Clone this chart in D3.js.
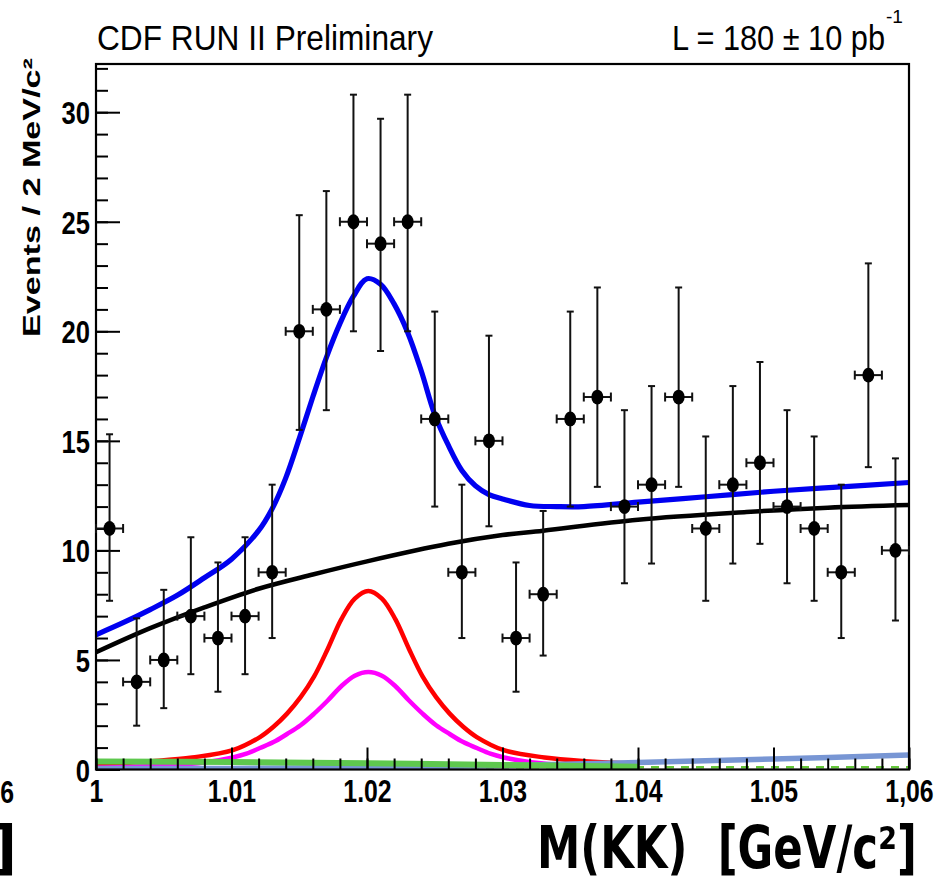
<!DOCTYPE html>
<head>
  <meta charset="utf-8">
  <script src="https://d3js.org/d3.v7.min.js"></script>
  <style>
    body { margin: 0; background: #fff; }
    svg { display: block; }
  </style>
</head>

<body>
  <svg width="946" height="880"></svg>

  <script>

  // data points (2 MeV bins)
  var binCenters = [1.001, 1.003, 1.005, 1.007, 1.009, 1.011, 1.013, 1.015, 1.017, 1.019,
                    1.021, 1.023, 1.025, 1.027, 1.029, 1.031, 1.033, 1.035, 1.037, 1.039,
                    1.041, 1.043, 1.045, 1.047, 1.049, 1.051, 1.053, 1.055, 1.057, 1.059];
  var counts = [11, 4, 5, 7, 6, 7, 9, 20, 21, 25,
                24, 25, 16, 9, 15, 6, 8, 16, 17, 12,
                13, 17, 11, 13, 14, 12, 11, 9, 18, 10];
  var errLow = [7.7, 2.0, 2.8, 4.35, 3.55, 4.35, 6.0, 15.5, 16.4, 20.0,
                19.1, 20.0, 12.0, 6.0, 11.1, 3.55, 5.2, 12.0, 12.9, 8.5,
                9.4, 12.9, 7.7, 9.4, 10.3, 8.5, 7.7, 6.0, 13.8, 6.8];
  var errHigh = [15.3, 6.9, 8.2, 10.6, 9.45, 10.6, 13.0, 25.3, 26.4, 30.8,
                 29.7, 30.8, 20.9, 13.0, 19.8, 9.45, 11.8, 20.9, 22.0, 16.4,
                 17.5, 22.0, 15.2, 17.5, 18.6, 16.4, 15.2, 13.0, 23.1, 14.2];
  var halfBin = 0.001;

  // fit curves
  var totalX = [1.000, 1.002, 1.004, 1.006, 1.008, 1.010, 1.012, 1.013, 1.014, 1.015, 1.016, 1.017,
                1.018, 1.019, 1.020, 1.021, 1.022, 1.023, 1.024, 1.025, 1.026, 1.027, 1.028,
                1.029, 1.030, 1.032, 1.034, 1.036, 1.040, 1.045, 1.050, 1.055, 1.060];
  var totalY = [6.15, 6.7, 7.3, 7.95, 8.75, 9.6, 10.9, 11.9, 13.3, 15.1, 17.0, 18.8,
                20.35, 21.6, 22.4, 22.15, 21.25, 19.95, 18.2, 16.2, 14.8, 13.65, 12.95,
                12.55, 12.35, 12.05, 12.0, 12.0, 12.2, 12.45, 12.7, 12.9, 13.1];

  var bkgX = [1.000, 1.004, 1.008, 1.012, 1.016, 1.020, 1.026, 1.030, 1.033, 1.040, 1.048, 1.054, 1.060];
  var bkgY = [5.35, 6.45, 7.4, 8.25, 8.9, 9.5, 10.3, 10.7, 10.9, 11.4, 11.75, 11.95, 12.07];

  var phiX = [1.0000, 1.0041, 1.0071, 1.0101, 1.0121, 1.0131, 1.0141, 1.0151, 1.0161, 1.0171, 1.0181,
              1.0191, 1.0201, 1.0211, 1.0221, 1.0231, 1.0241, 1.0251, 1.0261, 1.0271, 1.0281,
              1.0301, 1.0331, 1.0361, 1.0391];
  var phiY = [0.22, 0.38, 0.55, 0.88, 1.48, 1.95, 2.55, 3.3, 4.25, 5.5, 6.85,
              7.8, 8.15, 7.8, 6.85, 5.5, 4.25, 3.3, 2.55, 1.95, 1.48,
              0.88, 0.55, 0.38, 0.28];

  var phi2X = [1.0000, 1.0051, 1.0081, 1.0101, 1.0111, 1.0121, 1.0131, 1.0141, 1.0151, 1.0161, 1.0171,
               1.0181, 1.0191, 1.0201, 1.0211, 1.0221, 1.0231, 1.0241, 1.0251, 1.0261, 1.0271,
               1.0281, 1.0291, 1.0301, 1.0321, 1.0351, 1.0391];
  var phi2Y = [0.08, 0.18, 0.33, 0.55, 0.72, 0.98, 1.25, 1.62, 2.02, 2.55, 3.15,
               3.8, 4.28, 4.45, 4.28, 3.8, 3.15, 2.55, 2.02, 1.62, 1.25,
               0.98, 0.72, 0.55, 0.33, 0.18, 0.1];

  var greenX = [1.000, 1.010, 1.020, 1.030, 1.036, 1.040];
  var greenY = [0.37, 0.34, 0.28, 0.21, 0.16, 0.13];

  var slateX = [1.000, 1.010, 1.020, 1.030, 1.040, 1.050, 1.060];
  var slateY = [0.05, 0.05, 0.09, 0.18, 0.32, 0.48, 0.66];

  var dashX = [1.000, 1.060];
  var dashY = [0.1, 0.1];

  // axes
  var xMajor = [1.00, 1.01, 1.02, 1.03, 1.04, 1.05, 1.06];
  var xLabels = ["1", "1.01", "1.02", "1.03", "1.04", "1.05", "1,06"];
  var yMajor = [0, 5, 10, 15, 20, 25, 30];
  var yLabels = ["0", "5", "10", "15", "20", "25", "30"];

  var svg = d3.select("svg");
  var plotLeft = 96, plotRight = 909, plotTop = 64, plotBottom = 769.5;

  var x = d3.scaleLinear().domain([1, 1.06]).range([plotLeft, plotRight]);
  var y = d3.scaleLinear().domain([0, 32.2]).range([plotBottom, plotTop]);

  svg.append("rect").attr("width", 946).attr("height", 880).attr("fill", "#fff");

  svg.append("clipPath").attr("id", "plotclip")
    .append("rect")
    .attr("x", plotLeft).attr("y", plotTop)
    .attr("width", plotRight - plotLeft).attr("height", plotBottom - plotTop);

  var curves = svg.append("g").attr("clip-path", "url(#plotclip)");

  function drawCurve(xs, ys, color, width, dash) {
    var pts = xs.map(function(v, i) { return [v, ys[i]]; });
    var line = d3.line()
      .x(function(d) { return x(d[0]); })
      .y(function(d) { return y(d[1]); })
      .curve(d3.curveCatmullRom.alpha(0.5));
    var p = curves.append("path")
      .attr("d", line(pts))
      .attr("fill", "none")
      .attr("stroke", color)
      .attr("stroke-width", width)
      .attr("stroke-linecap", "butt");
    if (dash) p.attr("stroke-dasharray", dash);
    return p;
  }

  drawCurve(dashX, dashY, "#66c83c", 2.5, "8,7");
  drawCurve(phiX, phiY, "#ff0000", 4.5);
  drawCurve(phi2X, phi2Y, "#ff00ff", 4.5);
  drawCurve(slateX, slateY, "#7896d4", 5.5);
  drawCurve(greenX, greenY, "#5ec84e", 6);
  drawCurve(bkgX, bkgY, "#000000", 4.5);
  drawCurve(totalX, totalY, "#0000f0", 5.2);

  // y axis
  var yMinor = d3.range(0, 33, 1);
  svg.append("g")
    .attr("transform", "translate(" + plotLeft + ",0)")
    .call(d3.axisLeft(y).tickValues(yMinor).tickSize(-12).tickSizeOuter(0).tickFormat(""))
    .call(function(g) { g.select(".domain").remove(); })
    .selectAll("line").attr("stroke-width", 2);

  var yAxis = svg.append("g")
    .attr("transform", "translate(" + plotLeft + ",0)")
    .call(d3.axisLeft(y).tickValues(yMajor).tickSize(-24).tickSizeOuter(0)
      .tickFormat(function(d, i) { return yLabels[i]; }));
  yAxis.select(".domain").remove();
  yAxis.selectAll("line").attr("stroke-width", 2);
  yAxis.selectAll("text")
    .attr("x", -7.5)
    .attr("dy", "0.36em")
    .attr("transform", "scale(0.8,1)")
    .attr("font-family", "'Liberation Sans', Arial, sans-serif")
    .attr("font-weight", "bold")
    .attr("font-size", 32)
    .attr("fill", "#000");

  // x axis
  var xMinor = d3.range(0, 31).map(function(i) { return 1 + i * 0.002; });
  svg.append("g")
    .attr("transform", "translate(0," + plotBottom + ")")
    .call(d3.axisBottom(x).tickValues(xMinor).tickSize(-11).tickSizeOuter(0).tickFormat(""))
    .call(function(g) { g.select(".domain").remove(); })
    .selectAll("line").attr("stroke-width", 2);

  var xAxis = svg.append("g")
    .attr("transform", "translate(0," + plotBottom + ")")
    .call(d3.axisBottom(x).tickValues(xMajor).tickSize(-22).tickSizeOuter(0)
      .tickFormat(function(d, i) { return xLabels[i]; }));
  xAxis.select(".domain").remove();
  xAxis.selectAll("line").attr("stroke-width", 2);
  xAxis.selectAll("text")
    .attr("y", 33)
    .attr("dy", 0)
    .attr("transform", "scale(0.8,1)")
    .attr("font-family", "'Liberation Sans', Arial, sans-serif")
    .attr("font-weight", "bold")
    .attr("font-size", 31)
    .attr("fill", "#000");

  // frame
  svg.append("rect")
    .attr("x", plotLeft).attr("y", plotTop)
    .attr("width", plotRight - plotLeft).attr("height", plotBottom - plotTop)
    .attr("fill", "none")
    .attr("stroke", "#000")
    .attr("stroke-width", 2.2);

  // data points with errors
  var pts = svg.append("g").attr("class", "points");
  binCenters.forEach(function(m, i) {
    var cx = x(m), cy = y(counts[i]);
    var yl = y(errLow[i]), yh = y(errHigh[i]);
    var xl = x(m - halfBin), xh = x(m + halfBin);
    var g = pts.append("g").attr("stroke", "#111").attr("stroke-width", 2);
    g.append("line").attr("x1", cx).attr("x2", cx).attr("y1", yl).attr("y2", yh);
    g.append("line").attr("x1", cx - 3.5).attr("x2", cx + 3.5).attr("y1", yl).attr("y2", yl);
    g.append("line").attr("x1", cx - 3.5).attr("x2", cx + 3.5).attr("y1", yh).attr("y2", yh);
    g.append("line").attr("x1", xl).attr("x2", xh).attr("y1", cy).attr("y2", cy);
    g.append("line").attr("x1", xl).attr("x2", xl).attr("y1", cy - 4.5).attr("y2", cy + 4.5);
    g.append("line").attr("x1", xh).attr("x2", xh).attr("y1", cy - 4.5).attr("y2", cy + 4.5);
    pts.append("ellipse")
      .attr("cx", cx).attr("cy", cy)
      .attr("rx", 6).attr("ry", 7.4)
      .attr("fill", "#000");
  });

  // texts
  var sans = "'Liberation Sans', Arial, Helvetica, sans-serif";

  svg.append("text")
    .attr("x", 97).attr("y", 50)
    .attr("font-family", sans)
    .attr("font-size", 35)
    .attr("textLength", 336)
    .attr("lengthAdjust", "spacingAndGlyphs")
    .text("CDF RUN II Preliminary");

  svg.append("text")
    .attr("x", 672).attr("y", 50)
    .attr("font-family", sans)
    .attr("font-size", 35)
    .attr("textLength", 213)
    .attr("lengthAdjust", "spacingAndGlyphs")
    .text("L = 180 ± 10 pb");
  svg.append("text")
    .attr("x", 886).attr("y", 23)
    .attr("font-family", sans)
    .attr("font-size", 18)
    .attr("textLength", 17)
    .attr("lengthAdjust", "spacingAndGlyphs")
    .text("-1");

  svg.append("text")
    .attr("transform", "translate(40,337) rotate(-90) scale(1,0.8)")
    .attr("font-family", sans)
    .attr("font-weight", "bold")
    .attr("font-size", 30)
    .attr("textLength", 279)
    .attr("lengthAdjust", "spacingAndGlyphs")
    .text("Events / 2 MeV/c²");

  svg.append("text")
    .attr("x", 537).attr("y", 868)
    .attr("font-family", "'DejaVu Sans', Verdana, sans-serif")
    .attr("font-weight", "bold")
    .attr("font-size", 58)
    .style("white-space", "pre")
    .attr("textLength", 380)
    .attr("lengthAdjust", "spacingAndGlyphs")
    .text("M(KK)  [GeV/c²]");

  // pieces of the neighbouring panel cut at the left edge
  svg.append("text")
    .attr("transform", "translate(14,803) scale(0.8,1)")
    .attr("text-anchor", "end")
    .attr("font-family", sans)
    .attr("font-weight", "bold")
    .attr("font-size", 31)
    .text("6");
  svg.append("text")
    .attr("x", 17).attr("y", 868)
    .attr("text-anchor", "end")
    .attr("font-family", "'DejaVu Sans', Verdana, sans-serif")
    .attr("font-weight", "bold")
    .attr("font-size", 58)
    .text("]");

  </script>
</body>
